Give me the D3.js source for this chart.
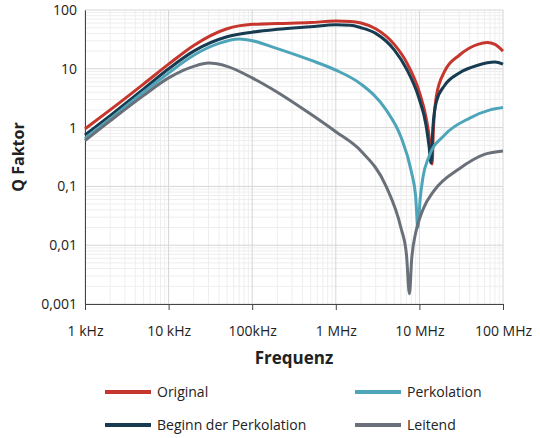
<!DOCTYPE html><html><head><meta charset="utf-8">
<script src="https://cdn.jsdelivr.net/npm/d3@7"></script>
<style>body{margin:0;background:#fff}text{font-family:"Open Sans",sans-serif}</style></head><body>
<svg id="c" width="540" height="438"></svg>
<script>
const xTicks=[1e3,1e4,1e5,1e6,1e7,1e8];
const xTickLabels=["1 kHz","10 kHz","100kHz","1 MHz","10 MHz","100 MHz"];
const yTicks=[0.001,0.01,0.1,1,10,100];
const yTickLabels=["0,001","0,01","0,1","1","10","100"];
const seriesNames=["Original","Beginn der Perkolation","Perkolation","Leitend"];
const original=[[1e3,0.95],[2e3,2],[5e3,5.5],[1e4,12],[2e4,25],[5e4,48],[1e5,57],[2e5,59],[5e5,61],[1e6,65],[1.5e6,64],[2e6,60],[3e6,48],[5e6,26],[7e6,13],[1e7,4],[1.2e7,1.5],[1.33e7,0.6],[1.42e7,0.24],[1.47e7,0.9],[1.6e7,3.5],[2e7,9],[3e7,17],[5e7,26],[6.5e7,28],[8e7,26],[1e8,20]];
const beginn=[[1e3,0.75],[2e3,1.6],[5e3,4.5],[1e4,10],[2e4,20],[5e4,35],[1e5,42],[2e5,47],[5e5,52],[1e6,56],[1.5e6,55],[2e6,50],[3e6,40],[5e6,21],[7e6,10],[1e7,3],[1.2e7,1.1],[1.3e7,0.5],[1.38e7,0.25],[1.45e7,1],[1.6e7,2.8],[2e7,5.2],[3e7,8.5],[5e7,11.5],[8e7,13],[1e8,12]];
const perkolation=[[1e3,0.65],[2e3,1.4],[5e3,4],[1e4,8.5],[2e4,17],[4e4,27],[7e4,32],[1e5,30],[2e5,22],[5e5,14],[1e6,9.5],[2e6,5.5],[4e6,2],[6e6,0.7],[8e6,0.18],[9e6,0.07],[9.6e6,0.02],[1.02e7,0.06],[1.1e7,0.14],[1.3e7,0.32],[2e7,0.75],[4e7,1.45],[7e7,2],[1e8,2.2]];
const leitend=[[1e3,0.6],[2e3,1.3],[5e3,3.5],[1e4,7],[2e4,11],[3e4,12.5],[5e4,11],[1e5,7],[2e5,4],[5e5,1.7],[1e6,0.85],[2e6,0.4],[4e6,0.1],[6e6,0.02],[7e6,0.007],[7.6e6,0.0015],[8.1e6,0.006],[9e6,0.016],[1.1e7,0.04],[1.5e7,0.085],[3e7,0.2],[6e7,0.35],[1e8,0.4]];
const colors=["#c6362c","#173b50","#4ea5ba","#6a7079"];
const data=[original,beginn,perkolation,leitend];
const svg=d3.select("#c");
const x=d3.scaleLog().domain([1e3,1e8]).range([85,503]);
const y=d3.scaleLog().domain([0.001,100]).range([304,10]);
const g=svg.append("g");
for(let d=1e3;d<1e8;d*=10)for(let k=2;k<10;k++)g.append("line").attr("x1",x(d*k)).attr("x2",x(d*k)).attr("y1",10).attr("y2",304).attr("stroke","#eee");
for(let d=0.001;d<99;d*=10)for(let k=2;k<10;k++)g.append("line").attr("y1",y(d*k)).attr("y2",y(d*k)).attr("x1",85).attr("x2",503).attr("stroke","#eee");
xTicks.forEach(t=>g.append("line").attr("x1",x(t)).attr("x2",x(t)).attr("y1",10).attr("y2",304).attr("stroke","#d6d6d6"));
yTicks.forEach(t=>g.append("line").attr("y1",y(t)).attr("y2",y(t)).attr("x1",85).attr("x2",503).attr("stroke","#d6d6d6"));
const xa=svg.append("g").attr("transform","translate(0,304)").call(d3.axisBottom(x).tickValues(xTicks).tickFormat((d,i)=>xTickLabels[i]).tickSize(6).tickPadding(16));
const ya=svg.append("g").attr("transform","translate(85,0)").call(d3.axisLeft(y).tickValues(yTicks).tickFormat((d,i)=>yTickLabels[i]).tickSize(0).tickPadding(8));
[xa,ya].forEach(a=>{a.selectAll("text").attr("font-size",14).attr("fill","#222").style("font-family","Open Sans");a.select(".domain").attr("stroke","#444");a.selectAll(".tick line").attr("stroke","#444");});
const line=d3.line().x(d=>x(d[0])).y(d=>y(d[1])).curve(d3.curveMonotoneX);
data.forEach((s,i)=>svg.append("path").datum(s).attr("d",line).attr("fill","none").attr("stroke",colors[i]).attr("stroke-width",3).attr("stroke-linejoin","round"));
svg.append("text").attr("x",294).attr("y",364).attr("text-anchor","middle").attr("font-size",17).attr("font-weight","bold").attr("fill","#222").text("Frequenz");
svg.append("text").attr("transform","translate(24,157) rotate(-90)").attr("text-anchor","middle").attr("font-size",16).attr("font-weight","bold").attr("fill","#222").text("Q Faktor");
const lp=[[105,392],[105,425],[355,392],[355,425]];
seriesNames.forEach((n,i)=>{const [lx,ly]=lp[i];
svg.append("line").attr("x1",lx).attr("x2",lx+46).attr("y1",ly).attr("y2",ly).attr("stroke",colors[i]).attr("stroke-width",4);
svg.append("text").attr("x",lx+52).attr("y",ly+5).attr("font-size",14).attr("fill","#222").text(n);});
</script></body></html>
